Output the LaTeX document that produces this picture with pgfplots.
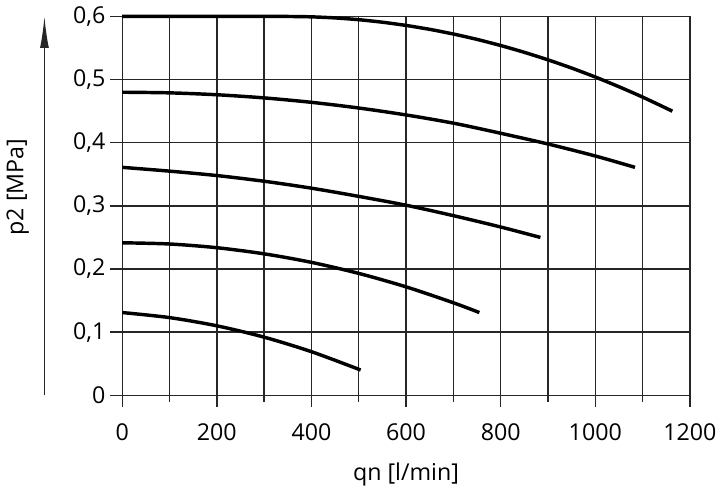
\documentclass[border=0pt]{standalone}
\usepackage{fontspec}
\setmainfont{Open Sans}
\usepackage{pgfplots}
\pgfplotsset{compat=1.18}
\usetikzlibrary{arrows.meta}
\begin{document}
\begin{tikzpicture}
\begin{axis}[
  scale only axis,
  width=288.5pt, height=192.5pt,
  xmin=0, xmax=1200, ymin=0, ymax=0.6,
  xtick={0,200,...,1200},
  minor xtick={100,300,...,1100},
  ytick={0,0.1,...,0.6},
  grid=both,
  major grid style={line width=0.7pt, black!85},
  minor grid style={line width=0.7pt, black!85},
  axis line style={line width=0.7pt, black!85},
  tick style={line width=0.7pt, black!85},
  tick align=outside,
  major tick length=6pt,
  minor tick length=3.5pt,
  xtick pos=bottom, ytick pos=left,
  /pgf/number format/assume math mode=true,
  /pgf/number format/use comma,
  /pgf/number format/1000 sep={},
  font=\fontsize{11.8}{14}\selectfont,
  xticklabel style={yshift=-5pt},
  yticklabel style={xshift=1pt},
  xlabel={qn [l/min]},
  ylabel={p2 [MPa]},
  xlabel style={at={(axis description cs:0.5,-0.16)}, anchor=north},
  ylabel style={at={(axis description cs:-0.184,0.55)}, anchor=center},
  clip=false,
]
\addplot[black, line width=1.75pt, smooth, tension=0.4] coordinates {
 (0,0.6) (100,0.6) (200,0.6) (300,0.6) (350,0.6) (400,0.5994) (450,0.5977) (500,0.5949) (550,0.5909) (600,0.5858) (650,0.5796) (700,0.5722) (750,0.5637) (800,0.5540) (850,0.5432) (900,0.5313) (950,0.5183) (1000,0.5041) (1050,0.4887) (1100,0.4723) (1163,0.450)};
\addplot[black, line width=1.75pt, smooth] coordinates {
 (0,0.480) (100,0.479) (200,0.476) (300,0.471) (400,0.464) (500,0.455) (600,0.444) (700,0.431) (800,0.415) (900,0.398) (1000,0.379) (1084,0.361)};
\addplot[black, line width=1.75pt, smooth] coordinates {
 (0,0.361) (100,0.355) (200,0.348) (300,0.339) (400,0.328) (500,0.315) (600,0.301) (700,0.2845) (800,0.2665) (884,0.250)};
\addplot[black, line width=1.75pt, smooth] coordinates {
 (0,0.2415) (100,0.2396) (200,0.2337) (300,0.224) (400,0.2105) (500,0.193) (600,0.1717) (700,0.1465) (755,0.131)};
\addplot[black, line width=1.75pt, smooth] coordinates {
 (0,0.131) (100,0.123) (200,0.110) (300,0.092) (400,0.069) (504,0.040)};
\draw[line width=0.7pt, black!85, -{Latex[length=16pt, width=4.5pt]}] (axis description cs:-0.137,0) -- (axis description cs:-0.137,1.0);
\end{axis}
\end{tikzpicture}
\end{document}
